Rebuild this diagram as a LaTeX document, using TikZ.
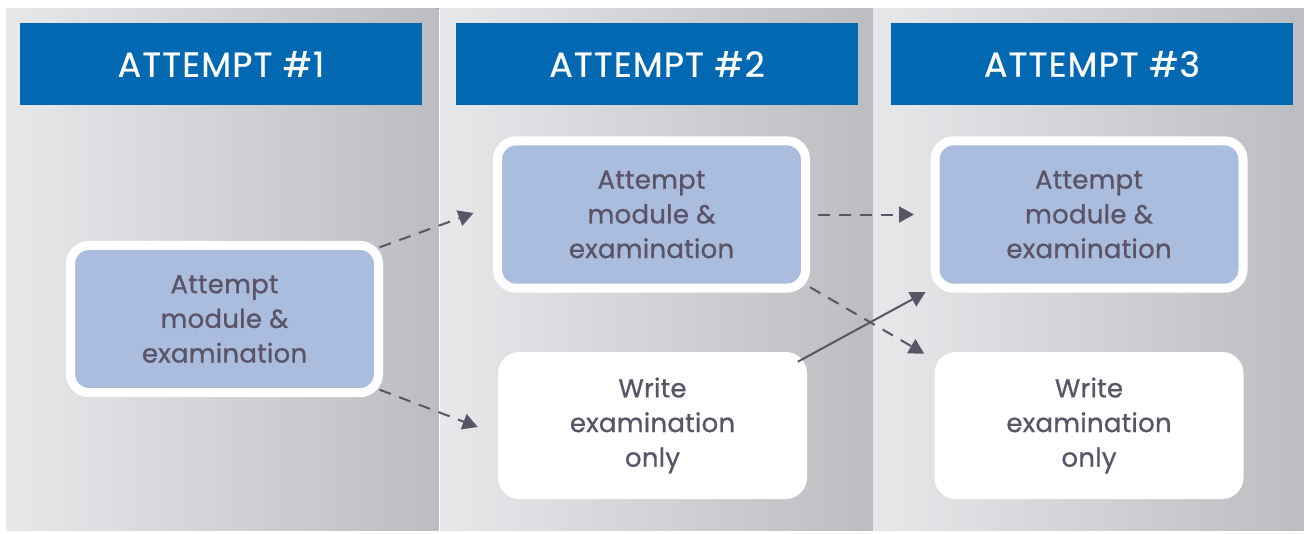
\documentclass[tikz,border=0pt]{standalone}
\usepackage{fontspec}
\setmainfont{Poppins}[UprightFeatures={FakeBold=0.8}]
\usetikzlibrary{arrows.meta,calc}
\definecolor{hdrblue}{RGB}{2,104,178}
\definecolor{boxblue}{RGB}{170,189,223}
\definecolor{txt}{RGB}{91,83,102}
\definecolor{pl}{RGB}{231,232,234}
\definecolor{pr}{RGB}{188,189,193}
\begin{document}
\begin{tikzpicture}[x=0.75pt,y=-0.75pt,
  panel/.style={left color=pl,right color=pr,draw=none},
  hdr/.style={fill=hdrblue,text=white,minimum width=301.5pt,minimum height=61.5pt,inner sep=0pt,font=\fontsize{26}{30}\selectfont\addfontfeature{LetterSpace=3.5}},
  boxtext/.style={text=txt,align=center,inner sep=0pt,font=\fontsize{19.5}{26}\selectfont\addfontfeature{LetterSpace=1}},
  bluebox/.style={boxtext,fill=boxblue,draw=white,line width=6.75pt,rounded corners=14pt,minimum width=231pt,minimum height=110.5pt},
  whitebox/.style={boxtext,fill=white,rounded corners=16pt,minimum width=231.75pt,minimum height=110.25pt},
  conn/.style={draw=txt,line width=1.5pt,-{Triangle[length=11.25pt,width=12pt]}},
  dconn/.style={conn,dash pattern=on 9pt off 6.75pt}]
\useasboundingbox (0,0) rectangle (1304,533);
\fill[white] (0,0) rectangle (1304,533);
% panels
\fill[panel] (6,8) rectangle (438.6,530);
\fill[panel] (440,8) rectangle (873,530);
\fill[panel] (873,8) rectangle (1304,530);
% headers
\node[hdr] (H1) at (221,64) {\raisebox{-2.25pt}{ATTEMPT \#1}};
\node[hdr] (H2) at (657,64) {\raisebox{-2.25pt}{ATTEMPT \#2}};
\node[hdr] (H3) at (1092,64) {\raisebox{-2.25pt}{ATTEMPT \#3}};
% boxes
\node[bluebox] (A1) at (224.5,319) {Attempt\\module \&\\examination};
\node[bluebox] (A2) at (651.5,214.5) {Attempt\\module \&\\examination};
\node[bluebox] (A3) at (1089,214.5) {Attempt\\module \&\\examination};
\node[whitebox] (W2) at (652.5,425.5) {Write\\examination\\only};
\node[whitebox] (W3) at (1089,425.5) {Write\\examination\\only};
% connectors
\draw[dconn] ($(A1.north east)+(-3.5,6.5)$) -- ($(A2.west)+(-19.5,-1.5)$);
\draw[dconn] ($(A1.south east)+(-3.5,-7.5)$) -- ($(W2.west)+(-20,1.5)$);
\draw[dconn] ($(A2.east)+(7.5,0)$) -- ($(A3.west)+(-16.5,0)$);
\draw[dconn] ($(A2.south east)+(0,-5.5)$) -- ($(W3.north west)+(-10,2)$);
\draw[conn] ($(W2.north east)+(-9.5,10)$) -- ($(A3.south west)+(-5,-0.5)$);
\end{tikzpicture}
\end{document}
